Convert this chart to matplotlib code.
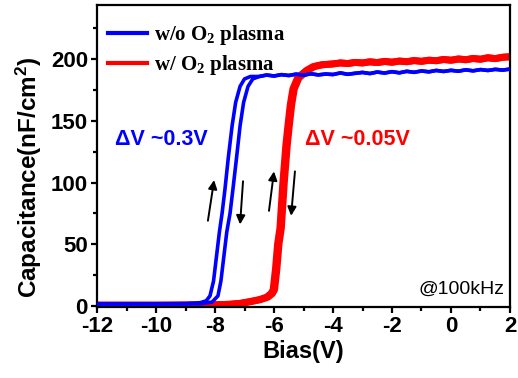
import numpy as np
import matplotlib
matplotlib.use("Agg")
import matplotlib.pyplot as plt
from matplotlib.ticker import MultipleLocator

plt.rcParams['mathtext.default'] = 'regular'
plt.rcParams['axes.unicode_minus'] = False

# w/o O2 plasma: two sweep branches in the transition, shared plateau
blue_up_x = [-12.0, -11.0, -10.0, -9.0, -8.5, -8.3, -8.17, -8.05, -7.95, -7.85,
             -7.76, -7.66, -7.55, -7.42, -7.3, -7.15, -7.0, -6.8, -6.5]
blue_up_y = [1.5, 1.5, 1.5, 1.7, 2.5, 4.0, 8.0, 20.0, 40.0, 60.0,
             75.0, 95.0, 120.0, 146.0, 165.0, 178.0, 184.0, 186.0, 186.0]
blue_dn_x = [-12.0, -10.0, -9.0, -8.5, -8.1, -7.9, -7.8, -7.7, -7.6, -7.49,
             -7.39, -7.27, -7.15, -7.03, -6.88, -6.72, -6.5]
blue_dn_y = [1.5, 1.5, 1.5, 1.6, 3.0, 8.0, 20.0, 40.0, 60.0, 75.0,
             95.0, 120.0, 146.0, 165.0, 178.0, 184.0, 186.0]
blue_plat_x = [-6.5, -6.25, -6.0, -5.75, -5.5, -5.25, -5.0, -4.75, -4.5, -4.25,
               -4.0, -3.75, -3.5, -3.25, -3.0, -2.75, -2.5, -2.25, -2.0, -1.75,
               -1.5, -1.25, -1.0, -0.75, -0.5, -0.25, 0.0, 0.25, 0.5, 0.75,
               1.0, 1.25, 1.5, 1.75, 2.0]
blue_plat_y = [186.0, 187.2, 186.4, 187.5, 186.8, 187.9, 187.0, 188.2, 187.3, 188.0,
               187.6, 188.9, 187.8, 188.6, 189.3, 188.4, 189.6, 188.8, 189.9, 189.0,
               190.2, 189.4, 190.5, 189.8, 190.9, 190.1, 191.0, 190.3, 191.4, 190.6,
               191.6, 190.9, 191.8, 191.2, 192.0]

# w/ O2 plasma
red_up_x = [-12.0, -10.0, -8.0, -7.5, -7.15, -6.8, -6.5, -6.25, -6.1, -6.03,
            -5.95, -5.88, -5.8, -5.7, -5.6, -5.53, -5.45, -5.36, -5.2, -5.05,
            -4.9, -4.68, -4.4, -4.0]
red_up_y = [0.5, 0.5, 0.8, 1.2, 2.0, 3.5, 5.0, 7.0, 10.0, 13.0,
            30.0, 50.0, 63.0, 100.0, 130.0, 146.0, 163.0, 176.0, 185.0, 188.0,
            191.0, 194.0, 195.5, 196.2]
red_dn_x = [-12.0, -10.0, -8.0, -7.5, -7.1, -6.75, -6.45, -6.2, -6.05, -5.98,
            -5.9, -5.83, -5.75, -5.65, -5.55, -5.48, -5.4, -5.31, -5.15, -5.0,
            -4.85, -4.63, -4.35, -4.0]
red_dn_y = red_up_y
red_plat_x = [-4.0, -3.75, -3.5, -3.25, -3.0, -2.75, -2.5, -2.25, -2.0, -1.75,
              -1.5, -1.25, -1.0, -0.75, -0.5, -0.25, 0.0, 0.25, 0.5, 0.75,
              1.0, 1.25, 1.5, 1.75, 2.0]
red_plat_y = [196.2, 197.0, 196.5, 197.4, 197.0, 197.9, 197.3, 198.2, 197.6, 198.5,
              198.0, 198.9, 198.3, 199.2, 198.8, 199.8, 199.2, 200.2, 199.6, 200.6,
              200.0, 201.2, 200.5, 201.6, 202.0]

blue = '#0000ff'
red = '#ff0000'

fig = plt.figure(figsize=(5.18, 3.78), dpi=100)
ax = fig.add_axes([97 / 518, 1 - 307 / 378, 413 / 518, 302 / 378])

ax.plot(red_up_x + red_plat_x, red_up_y + red_plat_y, color=red, lw=5, zorder=2)
ax.plot(red_dn_x + red_plat_x, red_dn_y + red_plat_y, color=red, lw=5, zorder=2)
ax.plot(blue_up_x + blue_plat_x, blue_up_y + blue_plat_y, color=blue, lw=2.6, zorder=3)
ax.plot(blue_dn_x + blue_plat_x, blue_dn_y + blue_plat_y, color=blue, lw=2.6, zorder=3)

ax.set_xlim(-12, 2)
ax.set_ylim(-1, 244)
ax.xaxis.set_major_locator(MultipleLocator(2))
ax.xaxis.set_minor_locator(MultipleLocator(1))
ax.yaxis.set_major_locator(MultipleLocator(50))
ax.yaxis.set_minor_locator(MultipleLocator(25))

for s in ax.spines.values():
    s.set_linewidth(1.6)
ax.tick_params(which='major', direction='out', length=4.5, width=1.6, pad=2)
ax.tick_params(which='minor', direction='out', length=3, width=1.6)
for lab in ax.get_xticklabels() + ax.get_yticklabels():
    lab.set_fontfamily('Liberation Sans')
    lab.set_fontweight('bold')
    lab.set_fontsize(16)

ax.set_xlabel('Bias(V)', family='Liberation Sans', weight='bold', fontsize=17, labelpad=2)
ax.set_ylabel('Capacitance(nF/cm$^2$)', family='Liberation Sans', weight='bold',
              fontsize=17.5)
ax.yaxis.set_label_coords(-0.128, 0.43)

# legend
h1, = ax.plot([], [], color=blue, lw=3)
h2, = ax.plot([], [], color=red, lw=3)
ax.legend([h1, h2], ['w/o O$_2$ plasma', 'w/ O$_2$ plasma'], loc='upper left',
          bbox_to_anchor=(0.027, 0.94), frameon=False, borderpad=0, borderaxespad=0,
          handlelength=1.85, handletextpad=0.35, labelspacing=0.3,
          prop={'family': 'Liberation Serif', 'weight': 'bold', 'size': 15})

ax.text(-11.4, 135, 'ΔV ~0.3V', color=blue, family='Liberation Sans', weight='bold',
        fontsize=15.5, va='center', ha='left')
ax.text(-4.95, 135, 'ΔV ~0.05V', color=red, family='Liberation Sans', weight='bold',
        fontsize=15.5, va='center', ha='left')
ax.text(1.8, 13, '@100kHz', color='black', family='Liberation Sans',
        fontsize=14, va='center', ha='right')

arrows = [((-8.24, 69), (-8.03, 102)), ((-7.05, 101), (-7.15, 66)),
          ((-6.17, 77), (-6.0, 109)), ((-5.29, 109), (-5.42, 73))]
for tail, tip in arrows:
    ax.annotate('', xy=tip, xytext=tail,
                arrowprops=dict(arrowstyle='-|>', color='black', lw=1.4,
                                mutation_scale=13, shrinkA=0, shrinkB=0))

fig.savefig('out.png', dpi=100)
